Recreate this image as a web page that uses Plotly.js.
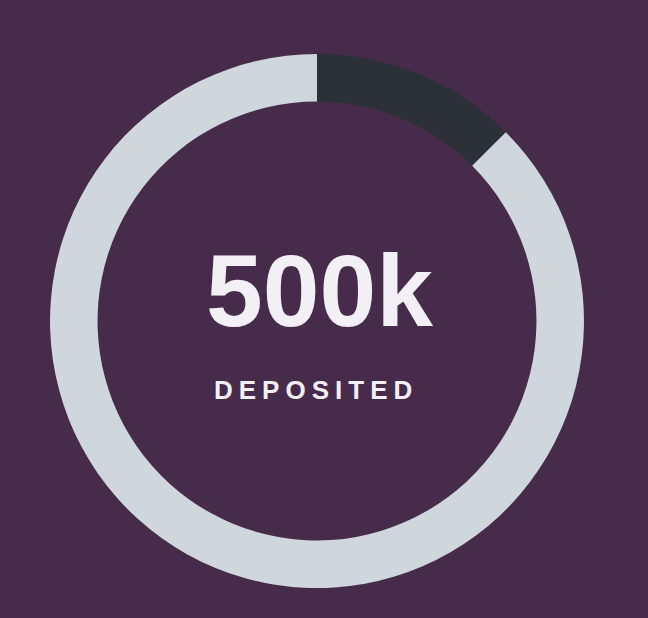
<!DOCTYPE html>
<html>
<head>
<meta charset="utf-8">
<script src="https://cdn.plot.ly/plotly-3.0.1.min.js"></script>
<style>
html,body{margin:0;padding:0;background:#472b4b;}
#chart{width:648px;height:618px;}
</style>
</head>
<body>
<div id="chart"></div>
<script>
const categories = ["Deposited", "Remaining"];
const values = [12.5, 87.5];
const sliceColors = ["#2b3137", "#cfd6dc"];
const centerValue = "500k";
const centerLabel = "DEPOSITED";

const data = [{
  type: "pie",
  labels: categories,
  values: values,
  sort: false,
  direction: "clockwise",
  rotation: 0,
  hole: 0.822,
  textinfo: "none",
  hoverinfo: "label+percent",
  marker: {colors: sliceColors, line: {width: 0}},
  domain: {x: [0.0772, 0.9012], y: [0.0485, 0.9126]},
  showlegend: false
}];

const layout = {
  width: 648, height: 618,
  margin: {l: 0, r: 0, t: 0, b: 0},
  paper_bgcolor: "#472b4b",
  plot_bgcolor: "#472b4b",
  showlegend: false,
  annotations: [
    {text: centerValue, x: 319/648, y: (618-291)/618, xref: "paper", yref: "paper",
     xanchor: "center", yanchor: "middle", showarrow: false,
     font: {family: "Liberation Sans, Arial, sans-serif", size: 102, weight: 700, color: "#f2eff5"}},
    {text: centerLabel, x: 316/648, y: (618-389.5)/618, xref: "paper", yref: "paper",
     xanchor: "center", yanchor: "middle", showarrow: false,
     font: {family: "Liberation Sans, Arial, sans-serif", size: 26, weight: 700, color: "#f2eff5"}}
  ]
};

Plotly.newPlot("chart", data, layout, {displayModeBar: false, staticPlot: true}).then(function(){
  const texts = document.querySelectorAll(".annotation-text");
  if (texts[1]) { texts[1].style.letterSpacing = "6px"; }
});
</script>
</body>
</html>
